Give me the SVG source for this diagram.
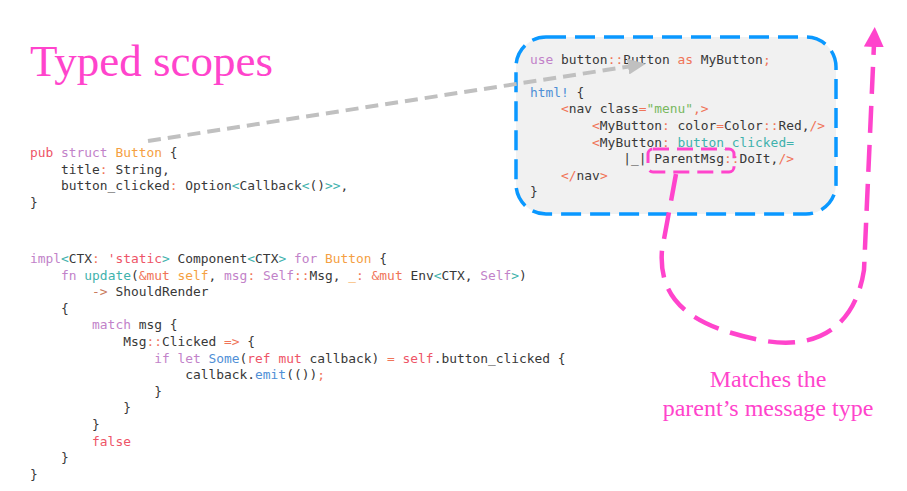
<svg xmlns="http://www.w3.org/2000/svg" width="907" height="491" viewBox="0 0 907 491" xml:space="preserve">
<defs>
<style>
.code{font-family:"DejaVu Sans Mono","Liberation Mono",monospace;font-size:12.9px;fill:#383838;white-space:pre}
.k{fill:#c282c9}.r{fill:#ee5467}.o{fill:#f5a042}.t{fill:#3fb2ad}.b{fill:#4f8fd6}.g{fill:#78b85e}.c{fill:#f07458}.a{fill:#c97a5c}
.serif{font-family:"Liberation Serif","Times New Roman",serif;fill:#ff44cc}
</style>
<marker id="grayHead" markerUnits="userSpaceOnUse" markerWidth="18" markerHeight="16" refX="4" refY="8" orient="auto" viewBox="0 0 18 16"><path d="M0,0 L18,8 L0,16 z" fill="#c0c0c0"/></marker>
<marker id="pinkHead" markerUnits="userSpaceOnUse" markerWidth="20" markerHeight="20" refX="3" refY="10" orient="auto" viewBox="0 0 20 20"><path d="M0,0 L20,10 L0,20 z" fill="#ff44cc"/></marker>
</defs>
<rect width="907" height="491" fill="#ffffff"/>

<g id="title"><text class="serif" x="30" y="76" font-size="45">Typed scopes</text></g>

<g id="struct-code">
<text class="code" x="30" y="157"><tspan class="r">pub</tspan> <tspan class="k">struct</tspan> <tspan class="o">Button</tspan> {</text>
<text class="code" x="30" y="173.6">    title<tspan class="c">:</tspan> String,</text>
<text class="code" x="30" y="190.2">    button_clicked<tspan class="c">:</tspan> Option<tspan class="t">&lt;</tspan>Callback<tspan class="t">&lt;</tspan>()<tspan class="t">&gt;&gt;</tspan>,</text>
<text class="code" x="30" y="206.8">}</text>
</g>

<g id="impl-code">
<text class="code" x="30" y="263"><tspan class="k">impl</tspan><tspan class="t">&lt;</tspan>CTX<tspan class="c">:</tspan> <tspan class="r">'static</tspan><tspan class="t">&gt;</tspan> Component<tspan class="t">&lt;</tspan>CTX<tspan class="t">&gt;</tspan> <tspan class="k">for</tspan> <tspan class="o">Button</tspan> {</text>
<text class="code" x="30" y="279.6">    <tspan class="k">fn</tspan> <tspan class="t">update</tspan>(<tspan class="c">&amp;mut</tspan> <tspan class="o">self</tspan>, <tspan class="k">msg</tspan><tspan class="c">:</tspan> <tspan class="k">Self</tspan><tspan class="c">::</tspan>Msg, <tspan class="o">_</tspan><tspan class="c">:</tspan> <tspan class="c">&amp;mut</tspan> Env<tspan class="t">&lt;</tspan>CTX, <tspan class="k">Self</tspan><tspan class="t">&gt;</tspan>)</text>
<text class="code" x="30" y="296.2">        <tspan class="a">-&gt;</tspan> ShouldRender</text>
<text class="code" x="30" y="312.8">    {</text>
<text class="code" x="30" y="329.4">        <tspan class="k">match</tspan> msg {</text>
<text class="code" x="30" y="346">            Msg<tspan class="c">::</tspan>Clicked <tspan class="c">=&gt;</tspan> {</text>
<text class="code" x="30" y="362.6">                <tspan class="k">if let</tspan> <tspan class="b">Some</tspan>(<tspan class="r">ref mut</tspan> callback) <tspan class="c">=</tspan> <tspan class="r">self</tspan>.button_clicked {</text>
<text class="code" x="30" y="379.2">                    callback.<tspan class="b">emit</tspan>(())<tspan class="c">;</tspan></text>
<text class="code" x="30" y="395.8">                }</text>
<text class="code" x="30" y="412.4">            }</text>
<text class="code" x="30" y="429">        }</text>
<text class="code" x="30" y="445.6">        <tspan class="r">false</tspan></text>
<text class="code" x="30" y="462.2">    }</text>
<text class="code" x="30" y="478.8">}</text>
</g>

<g id="html-box">
<rect x="516" y="37" width="320" height="177" rx="30" ry="30" fill="#f1f1f1" stroke="#0a98ff" stroke-width="3.5" stroke-dasharray="20 9"/>
<text class="code" x="530" y="63.5"><tspan class="k">use</tspan> button<tspan class="c">::</tspan>Button <tspan class="c">as</tspan> MyButton<tspan class="c">;</tspan></text>
<text class="code" x="530" y="96.7"><tspan class="b">html!</tspan> {</text>
<text class="code" x="530" y="113.3">    <tspan class="c">&lt;</tspan>nav class<tspan class="c">=</tspan><tspan class="g">"menu"</tspan><tspan class="c">,&gt;</tspan></text>
<text class="code" x="530" y="129.9">        <tspan class="c">&lt;</tspan>MyButton<tspan class="c">:</tspan> color<tspan class="c">=</tspan>Color<tspan class="c">::</tspan>Red,<tspan class="c">/&gt;</tspan></text>
<text class="code" x="530" y="146.5">        <tspan class="c">&lt;</tspan>MyButton<tspan class="c">:</tspan> <tspan class="t">button_clicked=</tspan></text>
<text class="code" x="530" y="163.1">            |_| ParentMsg<tspan class="c">::</tspan>DoIt,<tspan class="c">/&gt;</tspan></text>
<text class="code" x="530" y="179.7">    <tspan class="c">&lt;/</tspan>nav<tspan class="c">&gt;</tspan></text>
<text class="code" x="530" y="196.3">}</text>
<rect x="648" y="149" width="86" height="23" rx="5" ry="5" fill="none" stroke="#ff44cc" stroke-width="3" stroke-dasharray="16 8"/>
</g>

<g id="annotation">
<text class="serif" x="768" y="387" font-size="24" text-anchor="middle">Matches the</text>
<text class="serif" x="768" y="416" font-size="24" text-anchor="middle">parent’s message type</text>
</g>

<g id="connectors">
<path d="M148,141 L632,66" fill="none" stroke="#c0c0c0" stroke-width="4" stroke-dasharray="13 7" marker-end="url(#grayHead)"/>
<path d="M676,174 L662,250 C658,300 690,326 760,340 C822,352 856,322 864,270 L874,44" fill="none" stroke="#ff44cc" stroke-width="4.5" stroke-dasharray="27 12" marker-end="url(#pinkHead)"/>
</g>
</svg>
